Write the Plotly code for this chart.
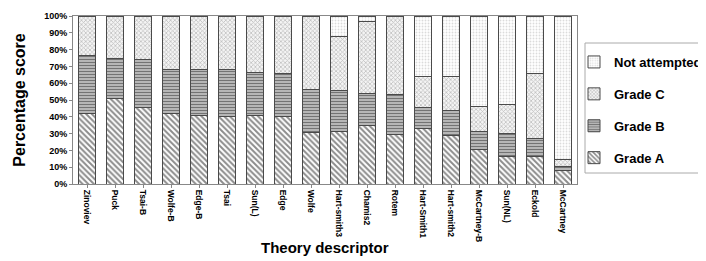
import plotly.graph_objects as go

categories = ["Zinoviev", "Puck", "Tsai-B", "Wolfe-B", "Edge-B", "Tsai", "Sun(L)", "Edge",
              "Wolfe", "Hart-smith3", "Chamis2", "Rotem", "Hart-Smith1", "Hart-smith2",
              "McCartney-B", "Sun(NL)", "Eckold", "McCartney"]
# cumulative tops (percent)
top_a = [42, 51, 45.6, 42, 41, 40, 41, 40, 30.6, 31, 35, 29.4, 33, 28.6, 20.4, 16.4, 16.4, 8]
top_b = [76.6, 75, 74.4, 68, 68, 68, 66.4, 66, 56, 55.4, 54, 53.4, 45.4, 44, 31, 30, 27, 10.6]
top_c = [100, 100, 100, 100, 100, 100, 100, 100, 100, 88, 97, 100, 64, 64, 46.4, 47.4, 66, 14.4]

grade_a = top_a
grade_b = [b - a for a, b in zip(top_a, top_b)]
grade_c = [c - b for b, c in zip(top_b, top_c)]
not_att = [100 - c for c in top_c]

series = [
    ("Grade A", grade_a, dict(shape="\\", fgcolor="#1a1a1a", bgcolor="white", size=4, solidity=0.5), 4),
    ("Grade B", grade_b, dict(shape="-", fgcolor="#2a2a2a", bgcolor="#bdbdbd", size=3, solidity=0.4), 3),
    ("Grade C", grade_c, dict(shape="x", fgcolor="#8a8a8a", bgcolor="#f4f4f4", size=3, solidity=0.45), 2),
    ("Not attempted", not_att, dict(shape=".", fgcolor="#b8b8b8", bgcolor="white", size=3, solidity=0.3), 1),
]

# page body has an 8px margin: figure coords = screen coords - 8
OFF = 8
PL, PR, PT, PB = 73 - OFF, 577 - OFF, 16 - OFF, 184 - OFF
W, H = 706, 261


def px(sx):
    return (sx - OFF - PL) / (PR - PL)


def py(sy):
    return (PB - (sy - OFF)) / (PB - PT)


fig = go.Figure()
for name, vals, pat, rank in series:
    fig.add_trace(go.Bar(
        x=categories, y=vals, name=f"<b>{name}</b>",
        marker=dict(color="white", pattern=pat, line=dict(color="#4a4a4a", width=1)),
        legendgroup=name, legendrank=rank,
    ))

# legend frame
fig.add_shape(type="rect", xref="paper", yref="paper",
              x0=px(585), x1=px(760), y0=py(173), y1=py(43),
              line=dict(color="#aaaaaa", width=1), fillcolor="rgba(0,0,0,0)")

# x-axis title as annotation so it stays inside the page
fig.add_annotation(text="<b>Theory descriptor</b>", xref="paper", yref="paper",
                   x=0.5, y=py(247), xanchor="center", yanchor="middle",
                   showarrow=False, font=dict(size=15))

fig.update_layout(
    barmode="stack",
    bargap=0.4,
    width=W, height=H,
    margin=dict(l=PL, r=W - PR, t=PT, b=H - PB, autoexpand=False),
    plot_bgcolor="white", paper_bgcolor="white",
    font=dict(family="Arial, Liberation Sans, sans-serif", color="black"),
    legend=dict(
        x=px(574), y=py(47), xanchor="left", yanchor="top",
        traceorder="grouped", tracegroupgap=12,
        bgcolor="rgba(0,0,0,0)", borderwidth=0,
        font=dict(size=13, family="Arial, Liberation Sans, sans-serif"),
        itemwidth=30,
    ),
    showlegend=True,
)

fig.update_yaxes(
    range=[0, 100], dtick=10, tickprefix="<b>", ticksuffix="%</b>",
    tickfont=dict(size=9),
    showgrid=False, showline=True, linecolor="#888888", mirror=True,
    ticks="outside", ticklen=3, tickcolor="#888888",
    title=dict(text="<b>Percentage score</b>", font=dict(size=16), standoff=14),
)
fig.update_xaxes(
    tickangle=90, tickfont=dict(size=8.5),
    tickvals=categories, ticktext=[f"<b>{c}</b>" for c in categories],
    showline=True, linecolor="#888888", mirror=True,
    ticks="outside", ticklen=3, tickcolor="#888888",
)

fig.write_html("out.html")
